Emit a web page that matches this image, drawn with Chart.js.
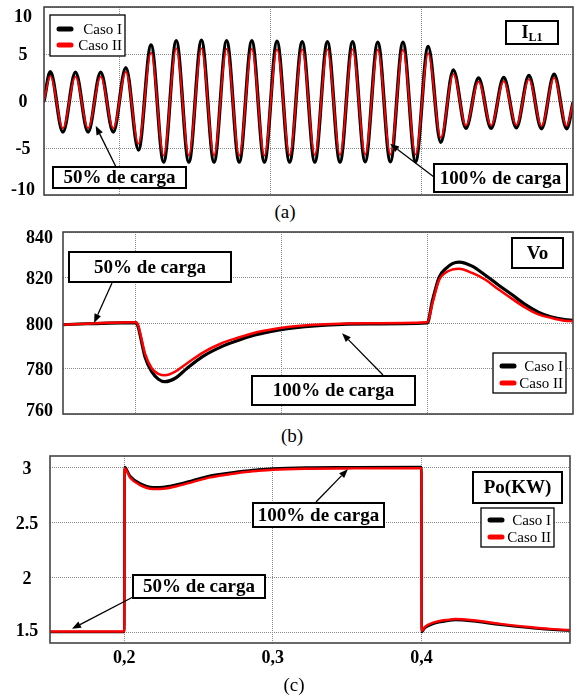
<!DOCTYPE html>
<html>
<head>
<meta charset="utf-8">
<script src="https://cdn.jsdelivr.net/npm/chart.js@4.4.1/dist/chart.umd.min.js"></script>
<style>
  html, body { margin: 0; padding: 0; background: #fff; }
  #fig { position: relative; width: 574px; height: 695px; overflow: hidden; }
  #fig canvas { position: absolute; left: 0; }
  .cap { position: absolute; width: 40px; margin-left: -20px; text-align: center;
         font: 19px "Liberation Serif", serif; line-height: 20px; color: #000; }
</style>
</head>
<body>
<div id="fig">
  <canvas id="chartA" width="574" height="200" style="top:0;width:574px;height:200px"></canvas>
  <div class="cap" style="left:285px; top:202px">(a)</div>
  <canvas id="chartB" width="574" height="200" style="top:220px;width:574px;height:200px"></canvas>
  <div class="cap" style="left:292px; top:426px">(b)</div>
  <canvas id="chartC" width="574" height="230" style="top:445px;width:574px;height:230px"></canvas>
  <div class="cap" style="left:294px; top:675px">(c)</div>
</div>
<script>
// ---- (a) I_L1 : peaks / troughs of each half cycle ----
const ilTime = [0.15,
  0.15417, 0.16250, 0.17083, 0.17917, 0.18750, 0.19583,
  0.20417, 0.21250, 0.22083, 0.22917, 0.23750, 0.24583,
  0.25417, 0.26250, 0.27083, 0.27917, 0.28750, 0.29583,
  0.30417, 0.31250, 0.32083, 0.32917, 0.33750, 0.34583,
  0.35417, 0.36250, 0.37083, 0.37917, 0.38750, 0.39583,
  0.40417, 0.41250, 0.42083, 0.42917, 0.43750, 0.44583,
  0.45417, 0.46250, 0.47083, 0.47917, 0.48750, 0.49583,
  0.5];
const ilCaso1 = [0,
  3.1, -3.3, 3.05, -3.3, 3.05, -3.3,
  3.55, -5.2, 5.95, -6.5, 6.4, -6.5,
  6.45, -6.5, 6.4, -6.5, 6.4, -6.5,
  6.35, -6.5, 6.3, -6.5, 6.3, -6.5,
  6.3, -6.45, 6.25, -6.45, 6.25, -6.45,
  5.8, -4.4, 3.3, -2.9, 2.45, -2.9,
  2.5, -2.85, 2.7, -2.95, 2.85, -2.95,
  -0.2];
const ilCaso2 = [0,
  2.65, -2.9, 2.6, -2.9, 2.6, -2.9,
  3.1, -4.55, 5.15, -5.8, 5.6, -5.8,
  5.6, -5.8, 5.55, -5.8, 5.55, -5.8,
  5.5, -5.75, 5.5, -5.75, 5.5, -5.75,
  5.5, -5.7, 5.45, -5.7, 5.45, -5.7,
  5.1, -3.9, 2.85, -2.6, 2.05, -2.6,
  2.1, -2.55, 2.3, -2.65, 2.45, -2.65,
  -0.15];
const ilTicks = [-10, -5, 0, 5, 10];

// ---- (b) Vo ----
const voTime = [0.15, 0.2, 0.2015, 0.2035, 0.2063, 0.211, 0.2155, 0.22, 0.2267, 0.235,
  0.246, 0.2585, 0.27, 0.281, 0.292, 0.304, 0.33, 0.36, 0.4,
  0.4036, 0.4082, 0.4127, 0.4172, 0.4218, 0.4308, 0.4399, 0.449, 0.458, 0.4671,
  0.4762, 0.4853, 0.4943, 0.5];
const voCaso1 = [799.3, 800.2, 798.5, 793, 785, 778.5, 775.3, 774.2, 775.6, 780,
  785.3, 789.5, 792.3, 794.6, 796.2, 797.5, 799, 799.6, 800,
  810, 820.2, 823.9, 826.1, 826.8, 825, 821, 816.6, 812.5, 808.2,
  804.8, 802.6, 801.5, 801.2];
const voCaso2 = [799.3, 800.3, 799, 794, 786.5, 780, 777.6, 777, 778.5, 782.2,
  787, 791, 793.5, 795.6, 797, 798.2, 799.4, 799.9, 800.3,
  808.8, 819, 822.2, 823.5, 823.9, 822, 819, 814.7, 810.7, 806.8,
  803.8, 802.2, 801, 800.8];
const voTicks = [760, 780, 800, 820, 840];

// ---- (c) Po (kW) ----
const poTime = [0.15, 0.2, 0.2002, 0.2038, 0.2106, 0.2195, 0.2275, 0.2353, 0.2464, 0.2577,
  0.27, 0.28, 0.29, 0.3, 0.3227, 0.35, 0.4,
  0.4002, 0.4022, 0.4079, 0.419, 0.4226, 0.4349, 0.4529, 0.4708, 0.4865, 0.4978, 0.5];
const poCaso1 = [1.5, 1.5, 3.0, 2.92, 2.85, 2.815, 2.82, 2.84, 2.88, 2.92,
  2.945, 2.964, 2.976, 2.985, 2.994, 2.997, 3.0,
  1.5, 1.536, 1.575, 1.605, 1.61, 1.599, 1.566, 1.541, 1.523, 1.515, 1.514];
const poCaso2 = [1.505, 1.505, 2.99, 2.905, 2.835, 2.8, 2.805, 2.825, 2.865, 2.905,
  2.932, 2.952, 2.965, 2.975, 2.984, 2.987, 2.99,
  1.51, 1.545, 1.585, 1.613, 1.618, 1.607, 1.574, 1.548, 1.528, 1.519, 1.518];
const poTicks = [1.5, 2, 2.5, 3];

const timeTicks = [0.2, 0.3, 0.4];
const seriesNames = ['Caso I', 'Caso II'];

Chart.defaults.font.family = '"Liberation Serif", "Times New Roman", serif';
Chart.defaults.color = '#000';

const SERIF = '"Liberation Serif", "Times New Roman", serif';

// boxes, arrows and legends drawn on top of each chart (canvas pixels; arrow tips in data units)
const extras = {
  chartA: {
    yLab: { align: 'center', x: 23, top: 10, bottom: 5, dy: 1 },
    legend: { box: [50, 15, 125, 56], rows: [29, 45] },
    arrows: [
      { from: [116, 167], to: [0.1842, -2.64] },
      { from: [434, 177], to: [0.379, -4.55] }
    ],
    boxes: [
      { r: [53, 167, 186, 188], text: '50% de carga' },
      { r: [434, 164, 567, 192], text: '100% de carga' },
      { r: [506, 21, 558, 44], parts: [['I', 18, 0], ['L1', 12, 4]] }
    ]
  },
  chartB: {
    yLab: { align: 'right', x: 53, top: 6, bottom: 3, dy: 2 },
    legend: { box: [493, 133, 566, 173], rows: [146, 163] },
    arrows: [
      { from: [112, 63], to: [0.1713, 800] },
      { from: [383, 155], to: [0.3415, 795.5] }
    ],
    boxes: [
      { r: [69, 32, 231, 62], text: '50% de carga' },
      { r: [512, 18, 563, 48], text: 'Vo' },
      { r: [252, 156, 415, 185], text: '100% de carga' }
    ]
  },
  chartC: {
    yLab: { align: 'center', x: 27, top: 9, bottom: 12, dy: 2 },
    legend: { box: [481, 63, 554, 102], rows: [75, 92] },
    arrows: [
      { from: [133, 152], to: [0.1648, 1.53] },
      { from: [316, 57], to: [0.3505, 2.98] }
    ],
    boxes: [
      { r: [473, 27, 562, 58], text: 'Po(KW)' },
      { r: [253, 58, 384, 82], text: '100% de carga' },
      { r: [133, 130, 265, 153], text: '50% de carga' }
    ]
  }
};

const figExtras = {
  id: 'figExtras',
  afterDatasetsDraw(chart) {
    const ctx = chart.ctx, a = chart.chartArea;
    ctx.save();
    ctx.strokeStyle = '#444';
    ctx.lineWidth = 1.6;
    ctx.strokeRect(a.left, a.top, a.right - a.left, a.bottom - a.top);
    ctx.restore();
  },
  afterDraw(chart) {
    const ex = extras[chart.canvas.id];
    if (!ex) return;
    const ctx = chart.ctx, a = chart.chartArea;
    const xs = chart.scales.x, ys = chart.scales.y;
    ctx.save();

    // y tick labels, kept inside the frame like the original
    ctx.font = 'bold 18px ' + SERIF;
    ctx.fillStyle = '#000';
    ctx.textAlign = ex.yLab.align;
    ctx.textBaseline = 'middle';
    ys.ticks.forEach(t => {
      let y = ys.getPixelForValue(t.value) + ex.yLab.dy;
      y = Math.min(Math.max(y, a.top + ex.yLab.top), a.bottom - ex.yLab.bottom);
      ctx.fillText(String(t.value), ex.yLab.x, y);
    });

    // arrows
    ex.arrows.forEach(ar => {
      const [x0, y0] = ar.from;
      const x1 = xs.getPixelForValue(ar.to[0]);
      const y1 = ys.getPixelForValue(ar.to[1]);
      const ang = Math.atan2(y1 - y0, x1 - x0);
      const hl = 9, hw = 3.5;
      ctx.strokeStyle = '#000';
      ctx.lineWidth = 1.3;
      ctx.beginPath();
      ctx.moveTo(x0, y0);
      ctx.lineTo(x1 - Math.cos(ang) * hl, y1 - Math.sin(ang) * hl);
      ctx.stroke();
      ctx.beginPath();
      ctx.moveTo(x1, y1);
      ctx.lineTo(x1 - Math.cos(ang) * hl - Math.sin(ang) * hw, y1 - Math.sin(ang) * hl + Math.cos(ang) * hw);
      ctx.lineTo(x1 - Math.cos(ang) * hl + Math.sin(ang) * hw, y1 - Math.sin(ang) * hl - Math.cos(ang) * hw);
      ctx.closePath();
      ctx.fillStyle = '#000';
      ctx.fill();
    });

    // text boxes
    ex.boxes.forEach(b => {
      const [l, t, r, bt] = b.r;
      ctx.fillStyle = '#fff';
      ctx.fillRect(l, t, r - l, bt - t);
      ctx.strokeStyle = '#000';
      ctx.lineWidth = 2;
      ctx.strokeRect(l, t, r - l, bt - t);
      ctx.fillStyle = '#000';
      ctx.textBaseline = 'middle';
      const cx = (l + r) / 2, cy = (t + bt) / 2 + 1;
      if (b.text) {
        ctx.font = 'bold 19px ' + SERIF;
        ctx.textAlign = 'center';
        ctx.fillText(b.text, cx, cy);
      } else {
        let w = 0;
        b.parts.forEach(p => { ctx.font = 'bold ' + p[1] + 'px ' + SERIF; w += ctx.measureText(p[0]).width; });
        let x = cx - w / 2;
        ctx.textAlign = 'left';
        b.parts.forEach(p => {
          ctx.font = 'bold ' + p[1] + 'px ' + SERIF;
          ctx.fillText(p[0], x, cy + p[2]);
          x += ctx.measureText(p[0]).width;
        });
      }
    });

    // legend
    const lg = ex.legend;
    const [l, t, r, bt] = lg.box;
    ctx.fillStyle = '#fff';
    ctx.fillRect(l, t, r - l, bt - t);
    ctx.strokeStyle = '#000';
    ctx.lineWidth = 1.3;
    ctx.strokeRect(l, t, r - l, bt - t);
    chart.data.datasets.forEach((ds, i) => {
      const y = lg.rows[i];
      ctx.strokeStyle = ds.borderColor;
      ctx.lineWidth = 5;
      ctx.lineCap = 'round';
      ctx.beginPath();
      ctx.moveTo(l + 9, y);
      ctx.lineTo(l + 21, y);
      ctx.stroke();
      ctx.fillStyle = '#000';
      ctx.font = '15px ' + SERIF;
      ctx.textAlign = 'right';
      ctx.textBaseline = 'middle';
      ctx.fillText(ds.label, r - 3, y + 1);
    });
    ctx.restore();
  }
};

function pts(xs, ys) {
  return xs.map((x, i) => ({ x: x, y: ys[i] }));
}

function fixedTicks(values) {
  return scale => { scale.ticks = values.map(v => ({ value: v })); };
}

const gridOpts = { color: '#8a8a8a', lineWidth: 1, drawTicks: false };
const borderOpts = { display: false, dash: [1, 1] };

function makeChart(id, cfg) {
  return new Chart(document.getElementById(id), {
    type: 'line',
    data: {
      datasets: [
        { label: seriesNames[0], data: pts(cfg.time, cfg.s1), borderColor: '#000000',
          borderWidth: cfg.w1, order: cfg.o1 },
        { label: seriesNames[1], data: pts(cfg.time, cfg.s2), borderColor: '#ff0000',
          borderWidth: cfg.w2, order: cfg.o2 }
      ]
    },
    options: {
      responsive: false,
      animation: false,
      events: [],
      layout: { padding: cfg.pad },
      elements: {
        point: { radius: 0 },
        line: { cubicInterpolationMode: 'monotone', fill: false, borderCapStyle: 'round', borderJoinStyle: 'round' }
      },
      plugins: { legend: { display: false }, tooltip: { enabled: false } },
      scales: {
        x: {
          type: 'linear', min: 0.15, max: 0.5,
          afterBuildTicks: fixedTicks(timeTicks),
          afterFit: s => { s.height = cfg.xh; },
          grid: gridOpts, border: borderOpts,
          ticks: {
            display: cfg.xLabels,
            padding: 5,
            font: { size: 18, weight: 'bold' },
            callback: v => v.toFixed(1).replace('.', ',')
          }
        },
        y: {
          type: 'linear', min: cfg.ymin, max: cfg.ymax,
          afterBuildTicks: fixedTicks(cfg.ticks),
          afterFit: s => { s.width = cfg.yw; },
          grid: gridOpts, border: borderOpts,
          ticks: { display: false }
        }
      }
    },
    plugins: [figExtras]
  });
}

makeChart('chartA', {
  time: ilTime, s1: ilCaso1, s2: ilCaso2, w1: 3.5, w2: 1.8, o1: 1, o2: 0,
  ymin: -10, ymax: 10, ticks: ilTicks, yw: 44, xh: 0, xLabels: false,
  pad: { left: 0, top: 7, right: 1, bottom: 5 }
});
makeChart('chartB', {
  time: voTime, s1: voCaso1, s2: voCaso2, w1: 3.2, w2: 2.5, o1: 1, o2: 0,
  ymin: 760, ymax: 840, ticks: voTicks, yw: 63, xh: 0, xLabels: false,
  pad: { left: 0, top: 12, right: 1, bottom: 6 }
});
makeChart('chartC', {
  time: poTime, s1: poCaso1, s2: poCaso2, w1: 2.6, w2: 2.4, o1: 1, o2: 0,
  ymin: 1.4, ymax: 3.1, ticks: poTicks, yw: 50, xh: 32, xLabels: true,
  pad: { left: 0, top: 11, right: 4, bottom: 0 }
});
</script>
</body>
</html>
